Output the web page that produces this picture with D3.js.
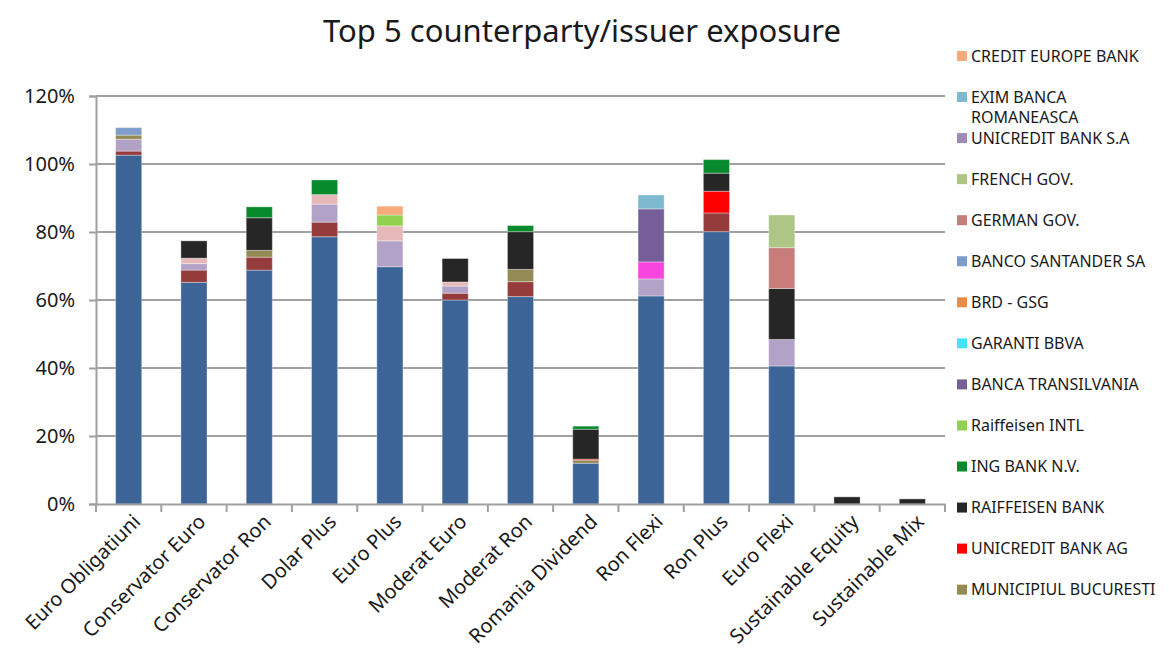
<!DOCTYPE html>
<html>
<head>
<meta charset="utf-8">
<script src="https://cdn.jsdelivr.net/npm/d3@7"></script>
<style>
  body { margin: 0; background: #fff; }
  text { font-family: "Noto Sans", sans-serif; fill: #1a1a1a; }
</style>
</head>
<body>
<svg id="chart" width="1169" height="654"></svg>
<script>
// categories (funds)
var funds = ["Euro Obligatiuni", "Conservator Euro", "Conservator Ron", "Dolar Plus", "Euro Plus",
    "Moderat Euro", "Moderat Ron", "Romania Dividend", "Ron Flexi", "Ron Plus", "Euro Flexi",
    "Sustainable Equity", "Sustainable Mix"]

// exposures in %, one value per fund, stacked bottom -> top
var seriesA = [102.6, 65.2, 68.8, 78.6, 69.8, 60.0, 61.0, 12.0, 61.2, 80.1, 40.6, 0, 0]   // not shown in legend
var seriesB = [1.2, 3.6, 3.8, 4.3, 0, 2.0, 4.4, 0, 0, 5.5, 0, 0, 0]                         // not shown in legend
var seriesC = [3.5, 1.9, 0, 5.3, 7.6, 2.1, 0, 0, 5.0, 0, 7.8, 0, 0]                         // not shown in legend
var seriesD = [0, 1.6, 0, 2.8, 4.4, 1.2, 0, 0, 0, 0, 0, 0, 0]                               // not shown in legend
var seriesE = [0, 0, 0, 0, 0, 0, 0, 0, 5.0, 0, 0, 0, 0]                                     // not shown in legend
var municipiulBucuresti = [1.2, 0, 2.0, 0, 0, 0, 3.6, 0.9, 0, 0, 0, 0, 0]
var unicreditBankAG = [0, 0, 0, 0, 0, 0, 0, 0.3, 0, 6.4, 0, 0, 0]
var raiffeisenBank = [0, 5.1, 9.6, 0, 0, 6.9, 11.1, 8.8, 0, 5.3, 15.0, 2.1, 1.5]
var ingBank = [0, 0, 3.2, 4.3, 0, 0, 1.8, 0.9, 0, 4.0, 0, 0, 0]
var raiffeisenIntl = [0, 0, 0, 0, 3.2, 0, 0, 0, 0, 0, 0, 0, 0]
var bancaTransilvania = [0, 0, 0, 0, 0, 0, 0, 0, 15.6, 0, 0, 0, 0]
var garantiBbva = [0, 0, 0, 0, 0, 0, 0, 0, 0, 0, 0, 0, 0]
var brdGsg = [0, 0, 0, 0, 0, 0, 0, 0, 0, 0, 0, 0, 0]
var bancoSantander = [2.2, 0, 0, 0, 0, 0, 0, 0, 0, 0, 0, 0, 0]
var germanGov = [0, 0, 0, 0, 0, 0, 0, 0, 0, 0, 12.0, 0, 0]
var frenchGov = [0, 0, 0, 0, 0, 0, 0, 0, 0, 0, 9.6, 0, 0]
var unicreditBankSA = [0, 0, 0, 0, 0, 0, 0, 0, 0, 0, 0, 0, 0]
var eximBanca = [0, 0, 0, 0, 0, 0, 0, 0, 4.1, 0, 0, 0, 0]
var creditEurope = [0, 0, 0, 0, 2.6, 0, 0, 0, 0, 0, 0, 0, 0]

var yTicks = [0, 20, 40, 60, 80, 100, 120]

// series in stack order: name, values, colour, shown in legend?
var series = [
    { key: "s1", name: "", values: seriesA, color: "#3c6496", legend: false },
    { key: "s2", name: "", values: seriesB, color: "#943c3b", legend: false },
    { key: "s3", name: "", values: seriesC, color: "#b3a2c7", legend: false },
    { key: "s4", name: "", values: seriesD, color: "#e6b9b8", legend: false },
    { key: "s5", name: "", values: seriesE, color: "#f646df", legend: false },
    { key: "s6", name: "MUNICIPIUL BUCURESTI", values: municipiulBucuresti, color: "#948a54", legend: true },
    { key: "s7", name: "UNICREDIT BANK AG", values: unicreditBankAG, color: "#ff0000", legend: true },
    { key: "s8", name: "RAIFFEISEN BANK", values: raiffeisenBank, color: "#262626", legend: true },
    { key: "s9", name: "ING BANK N.V.", values: ingBank, color: "#078a2c", legend: true },
    { key: "s10", name: "Raiffeisen INTL", values: raiffeisenIntl, color: "#92d050", legend: true },
    { key: "s11", name: "BANCA TRANSILVANIA", values: bancaTransilvania, color: "#765e98", legend: true },
    { key: "s12", name: "GARANTI BBVA", values: garantiBbva, color: "#3fe6f8", legend: true },
    { key: "s13", name: "BRD - GSG", values: brdGsg, color: "#eb8c42", legend: true },
    { key: "s14", name: "BANCO SANTANDER SA", values: bancoSantander, color: "#7e9cc9", legend: true },
    { key: "s15", name: "GERMAN GOV.", values: germanGov, color: "#c97d7b", legend: true },
    { key: "s16", name: "FRENCH GOV.", values: frenchGov, color: "#adc585", legend: true },
    { key: "s17", name: "UNICREDIT BANK S.A", values: unicreditBankSA, color: "#9c8bb5", legend: true },
    { key: "s18", name: "EXIM BANCA ROMANEASCA", values: eximBanca, color: "#7db9cf", legend: true },
    { key: "s19", name: "CREDIT EUROPE BANK", values: creditEurope, color: "#f8ab7a", legend: true }
]

var rows = funds.map(function(f, i) {
    var r = { fund: f }
    series.forEach(function(s) { r[s.key] = s.values[i] })
    return r
})

var svg = d3.select("#chart")
var plotLeft = 96, plotRight = 945, plotTop = 96, plotBottom = 504

var x = d3.scaleBand().domain(funds).range([plotLeft, plotRight]).paddingInner(0.6).paddingOuter(0.3)
var y = d3.scaleLinear().domain([0, 120]).range([plotBottom, plotTop])

// gridlines
svg.append("g")
    .selectAll("line")
    .data(yTicks.filter(function(t) { return t > 0 }))
    .enter().append("line")
    .attr("x1", plotLeft).attr("x2", plotRight)
    .attr("y1", function(d) { return y(d) }).attr("y2", function(d) { return y(d) })
    .attr("stroke", "#a0a0a0").attr("stroke-width", 2)

// bars
var stack = d3.stack().keys(series.map(function(s) { return s.key }))
var layers = stack(rows)

svg.append("g")
    .selectAll("g")
    .data(layers)
    .enter().append("g")
    .attr("fill", function(d, i) { return series[i].color })
    .selectAll("rect")
    .data(function(d) { return d.filter(function(p) { return p[1] - p[0] > 0 }) })
    .enter().append("rect")
    .attr("x", function(d) { return x(d.data.fund) })
    .attr("width", x.bandwidth())
    .attr("y", function(d) { return y(d[1]) })
    .attr("height", function(d) { return y(d[0]) - y(d[1]) })
    .attr("stroke", "#ffffff").attr("stroke-opacity", 0.35).attr("stroke-width", 1)

// y axis
var yAxis = svg.append("g")
    .attr("transform", "translate(" + plotLeft + ",0)")
    .call(d3.axisLeft(y).tickValues(yTicks).tickSize(7).tickPadding(14)
        .tickFormat(function(d) { return d + "%" }))
yAxis.select(".domain").attr("stroke", "#a0a0a0").attr("stroke-width", 2)
yAxis.selectAll(".tick line").attr("stroke", "#a0a0a0").attr("stroke-width", 2)
yAxis.selectAll(".tick text").style("font-size", "20px").style("font-family", "Noto Sans").attr("fill", "#1a1a1a")

// x axis
var xAxis = svg.append("g")
    .attr("transform", "translate(0," + plotBottom + ")")
    .call(d3.axisBottom(x).tickSize(0).tickFormat(""))
xAxis.select(".domain").attr("stroke", "#a0a0a0").attr("stroke-width", 2)

var step = x.step()
svg.append("g")
    .selectAll("line")
    .data(d3.range(funds.length + 1))
    .enter().append("line")
    .attr("x1", function(d) { return plotLeft + d * step }).attr("x2", function(d) { return plotLeft + d * step })
    .attr("y1", plotBottom).attr("y2", plotBottom + 8)
    .attr("stroke", "#a0a0a0").attr("stroke-width", 2)

svg.append("g")
    .selectAll("text")
    .data(funds)
    .enter().append("text")
    .attr("transform", function(d) {
        return "translate(" + (x(d) + x.bandwidth() / 2 + 8) + "," + (plotBottom + 14) + ") rotate(-45)"
    })
    .attr("text-anchor", "end")
    .attr("dy", "0.35em")
    .style("font-size", "20px")
    .text(function(d) { return d })

// title
svg.append("text")
    .attr("x", 582).attr("y", 42)
    .attr("text-anchor", "middle")
    .style("font-size", "31px")
    .text("Top 5 counterparty/issuer exposure")

// legend (top of stack first, truncated like the original)
var legendItems = series.filter(function(s) { return s.legend }).reverse()
var lg = svg.append("g")
    .selectAll("g")
    .data(legendItems)
    .enter().append("g")
    .attr("transform", function(d, i) { return "translate(957," + (56 + i * 41.05) + ")" })

lg.append("rect")
    .attr("x", 0).attr("y", -5).attr("width", 10).attr("height", 10)
    .attr("fill", function(d) { return d.color })

lg.append("text")
    .attr("x", 14).attr("dy", "0.35em")
    .style("font-size", "16px")
    .each(function(d) {
        var t = d3.select(this)
        if (d.name == "EXIM BANCA ROMANEASCA") {
            t.append("tspan").attr("x", 14).text("EXIM BANCA")
            t.append("tspan").attr("x", 14).attr("dy", "1.3em").text("ROMANEASCA")
        } else {
            t.text(d.name)
        }
    })
</script>
</body>
</html>
